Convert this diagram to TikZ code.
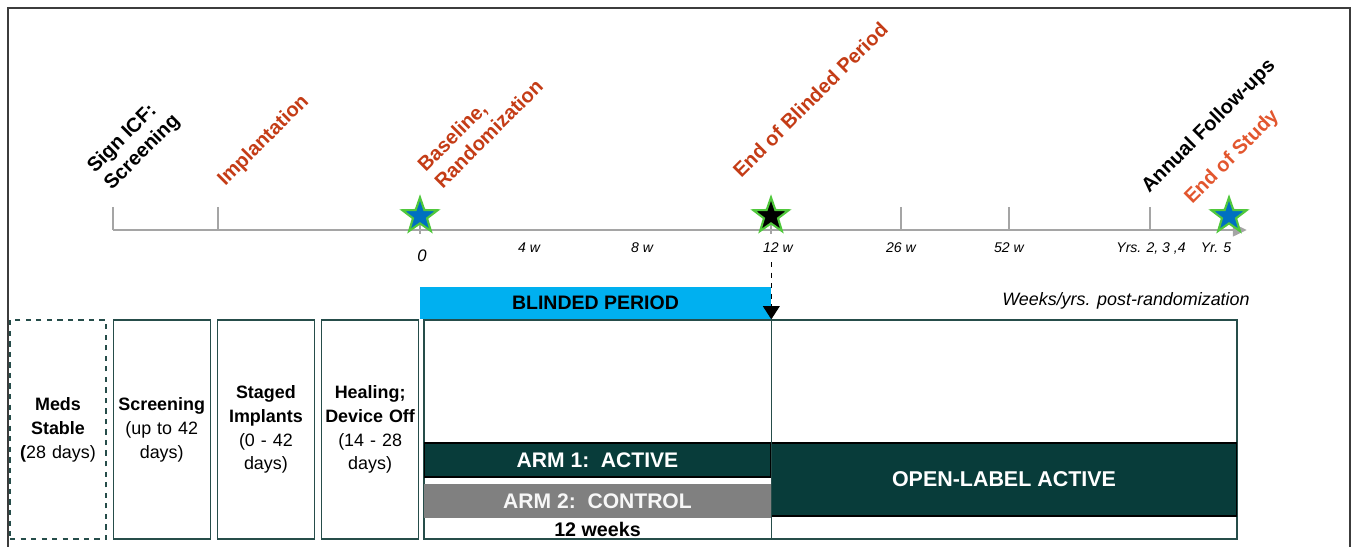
\documentclass[tikz,border=0pt]{standalone}
\usepackage{fontspec}
\setmainfont{Liberation Sans}
\usetikzlibrary{shapes.geometric,arrows.meta,positioning}
\definecolor{boxteal}{RGB}{38,77,74}
\definecolor{darkteal}{RGB}{8,60,58}
\definecolor{blindblue}{RGB}{0,176,240}
\definecolor{milered}{RGB}{196,60,22}
\definecolor{studyred}{RGB}{226,86,46}
\definecolor{axisgray}{RGB}{165,165,165}
\definecolor{starblue}{RGB}{0,112,192}
\definecolor{stargreen}{RGB}{80,200,60}
\definecolor{armgray}{RGB}{128,128,128}
\definecolor{framegray}{RGB}{60,60,60}

\begin{document}
\begin{tikzpicture}[x=0.02cm,y=-0.02cm,
  milestone/.style={rotate=45,inner sep=0pt,font=\fontsize{11.4}{13.6}\selectfont\bfseries,align=left},
  tick/.style={axisgray,line width=1.2pt},
  weeklabel/.style={font=\fontsize{8}{9}\selectfont\itshape,inner sep=0pt},
  event/.style={star,star points=5,star point ratio=2.5,minimum size=0.74cm,inner sep=0pt,fill=starblue,draw=stargreen,line width=1.2pt},
  phasebox/.style={draw=boxteal,line width=0.7pt,minimum height=4.38cm,minimum width=1.94cm,text width=1.9cm,align=center,inner sep=0pt,font=\fontsize{10.2}{13.6}\selectfont},
  armbar/.style={minimum width=6.94cm,minimum height=0.68cm,inner sep=0pt,text=white,font=\fontsize{12}{14}\selectfont\bfseries}]
	\useasboundingbox (0,0) rectangle (1353,547);
	\draw[framegray, line width=1.2pt] (8,560) -- (8,8) -- (1350,8) -- (1350,560);

	% the time axis
	\coordinate (axisstart) at (113,230);
	\coordinate (axisend) at (1247,230);
	\draw[tick] (113,207) -- (113,230);
	\draw[tick] (218,207) -- (218,230);
	\draw[tick] (420,207) -- (420,234);
	\draw[tick] (771,207) -- (771,234);
	\draw[tick] (901,207) -- (901,230);
	\draw[tick] (1009,207) -- (1009,230);
	\draw[tick] (1150,207) -- (1150,230);
	\draw[axisgray, line width=1.7pt, -{Triangle[length=8pt,width=7pt]}] (axisstart) -- (axisend);

	% create the nodes
	\node (s0)[event] at (420,216) {};
	\node (s12)[event, fill=black] at (771,216) {};
	\node (s5)[event] at (1229,216) {};

	\node (signicf)[milestone, anchor=south west] at (115,194) {Sign ICF:\\Screening};
	\node (implant)[milestone, anchor=base west, text=milered] at (225,187) {Implantation};
	\node (baseline)[milestone, anchor=south west, text=milered] at (443,190) {Baseline,\\Randomization};
	\node (endblind)[milestone, anchor=base west, text=milered] at (741,179) {End of Blinded Period};
	\node (annual)[milestone, anchor=base west] at (1149,194) {Annual Follow-ups};
	\node (endstudy)[milestone, anchor=base west, text=studyred] at (1192,205) {End of Study};

	\node (w0)[weeklabel, font=\fontsize{9.5}{11}\selectfont\itshape] at (422,256) {0};
	\node (w4)[weeklabel] at (529,248) {4 w};
	\node (w8)[weeklabel] at (642,248) {8 w};
	\node (w12)[weeklabel] at (778,248) {12 w};
	\node (w26)[weeklabel] at (901,248) {26 w};
	\node (w52)[weeklabel] at (1009,248) {52 w};
	\node (yrs)[weeklabel] at (1151,248) {Yrs. 2, 3 ,4};
	\node (yr5)[weeklabel] at (1216,248) {Yr. 5};
	\node (postrand)[anchor=base east, inner sep=0pt, font=\fontsize{10.2}{12}\selectfont\itshape] at (1250,306) {Weeks/yrs. post-randomization};

	\node (meds)[phasebox, dashed, minimum width=1.92cm] at (58,429.5) {\textbf{Meds}\\\textbf{Stable}\\\textbf{(}28 days)};
	\node (screen)[phasebox, right=0.12cm of meds] {\textbf{Screening}\\(up to 42\\days)};
	\node (staged)[phasebox, right=0.12cm of screen] {\textbf{Staged}\\\textbf{Implants}\\(0 - 42\\days)};
	\node (heal)[phasebox, right=0.12cm of staged] {\textbf{Healing;}\\\textbf{Device Off}\\(14 - 28\\days)};
	\node (trial)[draw=boxteal, line width=0.7pt, minimum width=16.26cm, minimum height=4.38cm, inner sep=0pt] at (830.5,429.5) {};

	\node (blind)[fill=blindblue, minimum width=7.02cm, minimum height=0.64cm, inner sep=0pt, font=\fontsize{11.1}{13}\selectfont\bfseries] at (595.5,303) {BLINDED PERIOD};
	\node (arm1)[armbar, fill=darkteal, draw=black, line width=0.6pt] at (597.5,460) {ARM 1:\ \ ACTIVE};
	\node (arm2)[armbar, fill=armgray, text=white!94!gray, below=0.12cm of arm1] {ARM 2:\ \ CONTROL};
	\node (twelve)[below=0.08cm of arm2, inner sep=0pt, font=\fontsize{11.2}{13}\selectfont\bfseries] {12 weeks};
	\node (openlabel)[fill=darkteal, draw=black, line width=0.6pt, minimum width=9.32cm, minimum height=1.46cm, inner sep=0pt, text=white, font=\fontsize{12.2}{14}\selectfont\bfseries] at (1004,479.5) {OPEN-LABEL ACTIVE};

	% connect the nodes
	\draw[boxteal, line width=0.7pt] (blind.south east) -- (blind.south east |- trial.south);
	\draw[-{Triangle[length=7.5pt,width=9.5pt]}, dashed, line width=0.8pt, shorten <=5pt] (w12.south -| blind.south east) -- (blind.south east);

\end{tikzpicture}
\end{document}
